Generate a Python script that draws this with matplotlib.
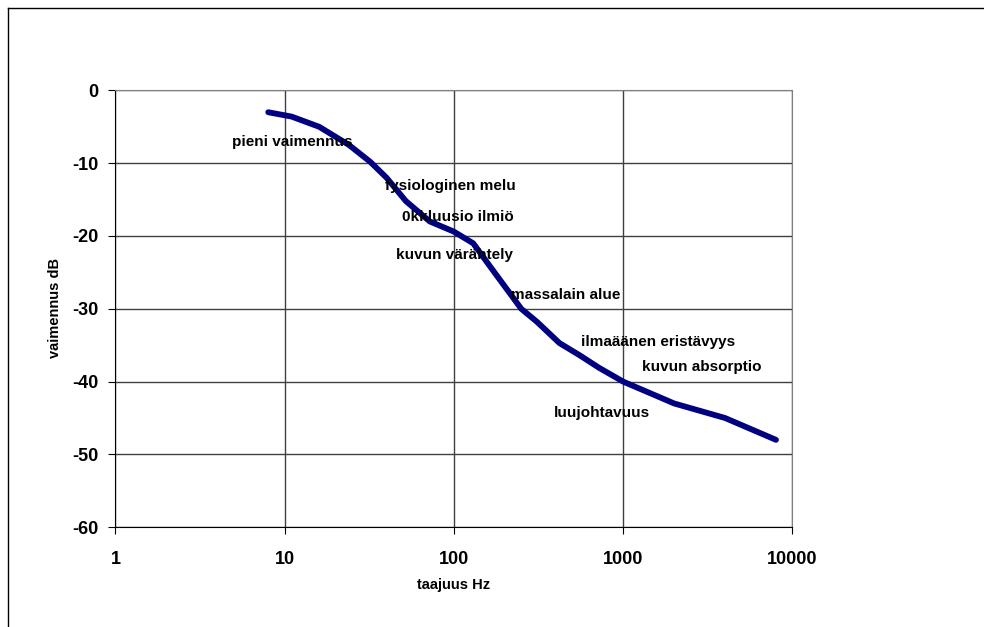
import matplotlib.pyplot as plt
import matplotlib.ticker as mticker
from matplotlib.lines import Line2D

plt.rcParams['font.family'] = ['Liberation Sans', 'DejaVu Sans']
plt.rcParams['font.weight'] = 'bold'
plt.rcParams['axes.unicode_minus'] = False

# curve
freq = [8, 11, 16, 24, 32, 40, 52, 72, 100, 130, 165, 250, 310, 420, 555, 720, 1000, 2000, 4000, 8000]
atten = [-3, -3.6, -5, -7.5, -9.8, -12, -15.2, -18, -19.4, -21, -24.3, -30, -31.8, -34.7, -36.4, -38.1, -40, -43, -45, -48]

labels = ['pieni vaimennus', 'fysiologinen melu', '0kkluusio ilmiö', 'kuvun värähtely',
          'massalain alue', 'ilmaäänen eristävyys', 'kuvun absorptio', 'luujohtavuus']
label_freq = [11.1, 95.3, 105.6, 101.4, 459, 1610, 2904, 754]
label_db = [-7.1, -13.2, -17.35, -22.6, -28.1, -34.5, -37.95, -44.3]

xticks = [1, 10, 100, 1000, 10000]
yticks = [0, -10, -20, -30, -40, -50, -60]

fig = plt.figure(figsize=(9.84, 6.27), dpi=100)
ax = fig.add_axes([115.4 / 984, 1 - 527.2 / 627, 677 / 984, 436.8 / 627])

ax.set_xscale('log')
ax.set_xlim(1, 10000)
ax.set_ylim(-60, 0)
ax.set_xticks(xticks)
ax.xaxis.set_major_formatter(mticker.FuncFormatter(lambda v, p: '%d' % v))
ax.xaxis.set_minor_locator(mticker.NullLocator())
ax.set_yticks(yticks)

ax.grid(True, color='#404040', linewidth=1)
ax.set_axisbelow(True)

ax.plot(freq, atten, color='#000080', linewidth=4.2, solid_capstyle='round',
        solid_joinstyle='round')

for t, fx, fy in zip(labels, label_freq, label_db):
    ax.text(fx, fy, t, ha='center', va='center', fontsize=11, fontweight='bold')

for s in ['top', 'right']:
    ax.spines[s].set_color('#808080')
for s in ['left', 'bottom']:
    ax.spines[s].set_color('black')

ax.tick_params(axis='x', length=5, pad=12, labelsize=13, direction='out')
ax.tick_params(axis='y', length=5, pad=7, labelsize=13, direction='out')
for lb in ax.get_xticklabels() + ax.get_yticklabels():
    lb.set_fontweight('bold')

fig.text(454 / 984, 1 - 585 / 627, 'taajuus Hz', ha='center', va='center',
         fontsize=10.5, fontweight='bold')
fig.text(55 / 984, 1 - 308.5 / 627, 'vaimennus dB', ha='center', va='center',
         rotation=90, fontsize=10.5, fontweight='bold')

# outer chart frame
fig.add_artist(Line2D([8 / 984, 8 / 984], [1 - 8 / 627, 0], color='black', linewidth=1))
fig.add_artist(Line2D([8 / 984, 1], [1 - 8 / 627, 1 - 8 / 627], color='black', linewidth=1))

plt.savefig('out.png', dpi=100)
